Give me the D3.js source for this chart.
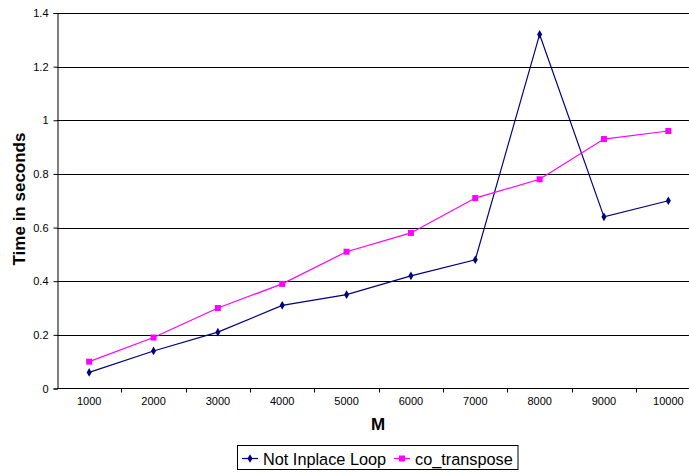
<!DOCTYPE html>
<html><head><meta charset="utf-8">
<script src="https://cdn.jsdelivr.net/npm/d3@7"></script>
<style>body{margin:0;background:#fff;} svg{display:block;font-family:Arial,"Liberation Sans",sans-serif;}</style>
</head><body>
<svg id="c" width="689" height="474"></svg>
<script>
const categories = ["1000","2000","3000","4000","5000","6000","7000","8000","9000","10000"];
const notInplace = [0.06,0.14,0.21,0.31,0.35,0.42,0.48,1.32,0.64,0.70];
const coTranspose = [0.10,0.19,0.30,0.39,0.51,0.58,0.71,0.78,0.93,0.96];
const yTicks = [0,0.2,0.4,0.6,0.8,1,1.2,1.4];
const seriesNames = ["Not Inplace Loop","co_transpose"];
const seriesColors = ["#000080","#FF00FF"];

const svg = d3.select("#c");
const L = 57, R = 700.5, T = 13, B = 388.5;
const x = d3.scaleBand().domain(categories).range([L, R]);
const y = d3.scaleLinear().domain([0,1.4]).range([B, T]);

// gridlines
svg.append("g").selectAll("line").data(yTicks.filter(d=>d>0)).join("line")
  .attr("x1", L).attr("x2", 689).attr("y1", d=>Math.round(y(d))+0.5).attr("y2", d=>Math.round(y(d))+0.5)
  .attr("stroke", "#000").attr("stroke-width", 1);

// y axis
const ya = svg.append("g").attr("transform", `translate(${L+0.5},0)`)
  .call(d3.axisLeft(y).tickValues(yTicks).tickFormat(d=>String(d)).tickSize(4).tickPadding(5));
ya.selectAll("text").attr("font-size", 11).attr("fill", "#000").attr("font-family","Arial, 'Liberation Sans', sans-serif");
ya.select(".domain").attr("stroke", "#000");
ya.selectAll(".tick line").attr("stroke","#000");

// x axis
const xa = svg.append("g").attr("transform", `translate(0,${B})`)
  .call(d3.axisBottom(x).tickSize(0).tickPadding(9));
xa.select(".domain").remove();
xa.selectAll("text").attr("font-size", 11).attr("fill", "#000").attr("font-family","Arial, 'Liberation Sans', sans-serif");
svg.append("line").attr("x1", L).attr("x2", 689).attr("y1", B).attr("y2", B).attr("stroke","#000");
svg.append("g").selectAll("line").data(categories.slice(1).concat(["_end"])).join("line")
  .attr("x1", d=> d==="_end" ? R : Math.round(x(d))+0.5).attr("x2", d=> d==="_end" ? R : Math.round(x(d))+0.5)
  .attr("y1", B).attr("y2", B+4).attr("stroke","#000");

// series
const series = [notInplace, coTranspose];
const line = d3.line().x((d,i)=>x(categories[i])+x.bandwidth()/2).y(d=>y(d));
series.forEach((vals, si) => {
  svg.append("path").datum(vals).attr("d", line).attr("fill","none")
    .attr("stroke", seriesColors[si]).attr("stroke-width", 1.2);
  const g = svg.append("g");
  vals.forEach((v,i)=>{
    const cx = x(categories[i])+x.bandwidth()/2, cy = y(v);
    if (si===0) {
      g.append("path").attr("d", d3.symbol(d3.symbolDiamond, 22)()).attr("transform",`translate(${cx},${cy})`).attr("fill", seriesColors[si]);
    } else {
      g.append("rect").attr("x", cx-3).attr("y", cy-3).attr("width",6).attr("height",6).attr("fill", seriesColors[si]);
    }
  });
});

// axis titles
svg.append("text").attr("transform","translate(25,199) rotate(-90)").attr("text-anchor","middle")
  .attr("font-size",17).attr("font-weight","bold").text("Time in seconds");
svg.append("text").attr("x",378).attr("y",430).attr("text-anchor","middle")
  .attr("font-size",17).attr("font-weight","bold").text("M");

// legend
svg.append("rect").attr("x",237.5).attr("y",445.5).attr("width",280.5).attr("height",24)
  .attr("fill","#fff").attr("stroke","#000");
const lx = [242, 394];
const tx = [263, 415];
seriesNames.forEach((n, i)=>{
  svg.append("line").attr("x1",lx[i]).attr("x2",lx[i]+16).attr("y1",458.5).attr("y2",458.5).attr("stroke",seriesColors[i]).attr("stroke-width",1.2);
  if (i===0) svg.append("path").attr("d", d3.symbol(d3.symbolDiamond, 22)()).attr("transform",`translate(${lx[i]+8},458.5)`).attr("fill",seriesColors[i]);
  else svg.append("rect").attr("x",lx[i]+5).attr("y",455.5).attr("width",6).attr("height",6).attr("fill",seriesColors[i]);
  svg.append("text").attr("x",tx[i]).attr("y",465).attr("font-size",16.3).text(n);
});
</script>
</body></html>
